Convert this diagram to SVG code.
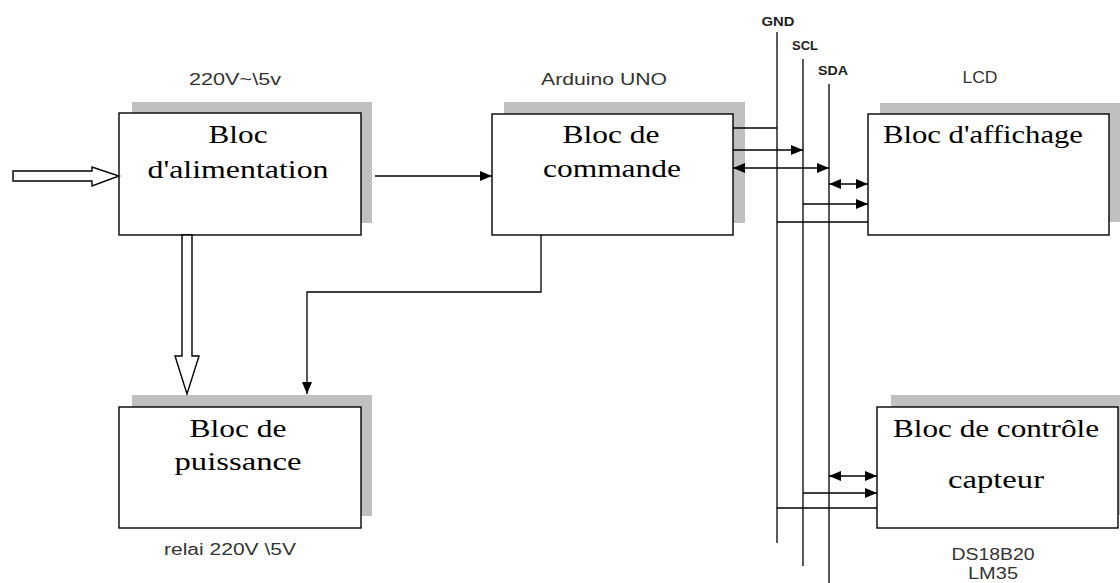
<svg xmlns="http://www.w3.org/2000/svg" width="1120" height="583" viewBox="0 0 1120 583">
<style>
.shadow{fill:#c0c0c0}
.box{fill:#fff;stroke:#000;stroke-width:1.4}
.title{font-family:"Liberation Serif",serif;font-size:25px;fill:#000}
.lbl{font-family:"Liberation Sans",sans-serif;font-size:16px;fill:#333}
.bus{font-family:"Liberation Sans",sans-serif;font-size:12px;font-weight:bold;fill:#222}
.wire{fill:none;stroke:#000;stroke-width:1.3}
.hollow{fill:#fff;stroke:#000;stroke-width:1.4}
</style>
<defs>
<marker id="ah" markerUnits="userSpaceOnUse" markerWidth="12" markerHeight="10" refX="12" refY="5" orient="auto-start-reverse">
<path d="M0,0 L12,5 L0,10 z" fill="#000"/>
</marker>
</defs>

<g id="labels">
<text class="lbl" x="235" y="85" text-anchor="middle" textLength="92" lengthAdjust="spacingAndGlyphs">220V~\5v</text>
<text class="lbl" x="604" y="85" text-anchor="middle" textLength="126" lengthAdjust="spacingAndGlyphs">Arduino UNO</text>
<text class="lbl" x="980" y="83" text-anchor="middle" textLength="35" lengthAdjust="spacingAndGlyphs">LCD</text>
<text class="lbl" x="230" y="555" text-anchor="middle" textLength="132" lengthAdjust="spacingAndGlyphs">relai 220V \5V</text>
<text class="lbl" x="993" y="560" text-anchor="middle" textLength="83" lengthAdjust="spacingAndGlyphs">DS18B20</text>
<text class="lbl" x="993" y="579" text-anchor="middle" textLength="50" lengthAdjust="spacingAndGlyphs">LM35</text>
<text class="bus" x="778" y="26" text-anchor="middle" textLength="33" lengthAdjust="spacingAndGlyphs">GND</text>
<text class="bus" x="805" y="50" text-anchor="middle" textLength="26" lengthAdjust="spacingAndGlyphs">SCL</text>
<text class="bus" x="833" y="75" text-anchor="middle" textLength="30" lengthAdjust="spacingAndGlyphs">SDA</text>
</g>

<g id="alimentation">
<rect class="shadow" x="132" y="102" width="240" height="121"/>
<rect class="box" x="119" y="113" width="242" height="122"/>
<text class="title" x="238" y="143" text-anchor="middle" textLength="59" lengthAdjust="spacingAndGlyphs">Bloc</text>
<text class="title" x="238" y="178" text-anchor="middle" textLength="181" lengthAdjust="spacingAndGlyphs">d'alimentation</text>
</g>

<g id="commande">
<rect class="shadow" x="504" y="102" width="241" height="121"/>
<rect class="box" x="492" y="114" width="241" height="121"/>
<text class="title" x="611" y="143" text-anchor="middle" textLength="97" lengthAdjust="spacingAndGlyphs">Bloc de</text>
<text class="title" x="612" y="177" text-anchor="middle" textLength="138" lengthAdjust="spacingAndGlyphs">commande</text>
</g>

<g id="affichage">
<rect class="shadow" x="880" y="103" width="240" height="119"/>
<rect class="box" x="868" y="114" width="241" height="121"/>
<text class="title" x="883" y="143" textLength="200" lengthAdjust="spacingAndGlyphs">Bloc d'affichage</text>
</g>

<g id="controle">
<rect class="shadow" x="891" y="395" width="229" height="120"/>
<rect class="box" x="877" y="407" width="241" height="121"/>
<text class="title" x="893" y="437" textLength="206" lengthAdjust="spacingAndGlyphs">Bloc de contrôle</text>
<text class="title" x="996" y="488" text-anchor="middle" textLength="96" lengthAdjust="spacingAndGlyphs">capteur</text>
</g>

<g id="puissance">
<rect class="shadow" x="132" y="395" width="240" height="121"/>
<rect class="box" x="119" y="407" width="242" height="121"/>
<text class="title" x="238" y="437" text-anchor="middle" textLength="97" lengthAdjust="spacingAndGlyphs">Bloc de</text>
<text class="title" x="238" y="470" text-anchor="middle" textLength="127" lengthAdjust="spacingAndGlyphs">puissance</text>
</g>

<g id="connectors">
<polygon class="hollow" points="13,171 92,171 92,167 119,176 92,186 92,181 13,181"/>
<polygon class="hollow" points="182,235 192,235 192,356 199,356 187,394 175,356 182,356"/>
<line class="wire" x1="375" y1="176" x2="492" y2="176" marker-end="url(#ah)"/>
<polyline class="wire" points="541,235 541,292 307,292 307,394" marker-end="url(#ah)"/>
<line class="wire" x1="777" y1="32" x2="777" y2="543"/>
<line class="wire" x1="803" y1="59" x2="803" y2="566"/>
<line class="wire" x1="829" y1="84" x2="829" y2="583"/>
<line class="wire" x1="733" y1="128" x2="777" y2="128"/>
<line class="wire" x1="733" y1="150" x2="803" y2="150" marker-end="url(#ah)"/>
<line class="wire" x1="733" y1="168" x2="829" y2="168" marker-start="url(#ah)" marker-end="url(#ah)"/>
<line class="wire" x1="829" y1="184" x2="868" y2="184" marker-start="url(#ah)" marker-end="url(#ah)"/>
<line class="wire" x1="803" y1="204" x2="868" y2="204" marker-end="url(#ah)"/>
<line class="wire" x1="777" y1="222" x2="868" y2="222"/>
<line class="wire" x1="829" y1="476" x2="877" y2="476" marker-start="url(#ah)" marker-end="url(#ah)"/>
<line class="wire" x1="803" y1="493" x2="877" y2="493" marker-end="url(#ah)"/>
<line class="wire" x1="777" y1="508" x2="877" y2="508"/>
</g>
</svg>
